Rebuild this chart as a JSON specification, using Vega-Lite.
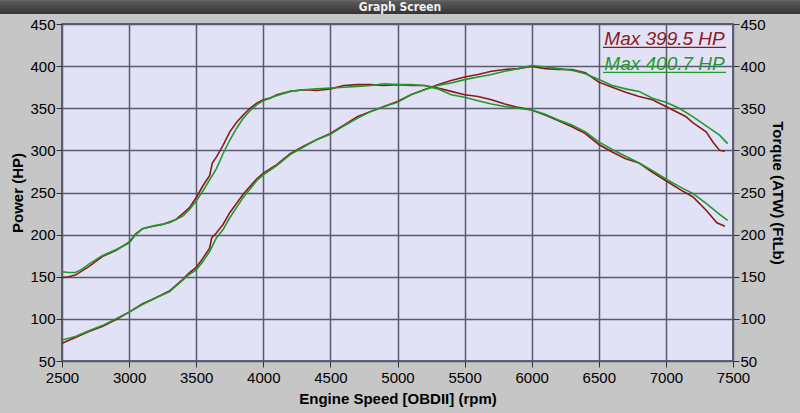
{
  "$schema": "https://vega.github.io/schema/vega-lite/v6.json",
  "width": 671,
  "height": 337,
  "autosize": {"type": "none"},
  "padding": {"left": 62, "top": 24, "right": 67, "bottom": 52},
  "background": "#c6c6c6",
  "config": {
    "font": "Liberation Sans",
    "view": {"fill": "#e2e2f6", "stroke": "#3c3c50", "strokeWidth": 1.5},
    "axis": {
      "labelFont": "Liberation Sans",
      "labelFontSize": 15,
      "labelColor": "#000000",
      "titleFont": "Liberation Sans",
      "titleFontSize": 15,
      "titleFontWeight": "bold",
      "titleColor": "#000000",
      "tickColor": "#303040",
      "tickSize": 6,
      "tickWidth": 1,
      "domain": false,
      "gridColor": "#5a5a70",
      "gridWidth": 1.5,
      "gridOpacity": 1,
      "labelOverlap": false,
      "labelBound": false,
      "labelFlush": false,
      "format": "d"
    }
  },
  "datasets": {
    "curves": [
      {"rpm": 2500, "value": 149, "run": "Run 1", "measure": "Torque"},
      {"rpm": 2550, "value": 150, "run": "Run 1", "measure": "Torque"},
      {"rpm": 2600, "value": 152, "run": "Run 1", "measure": "Torque"},
      {"rpm": 2700, "value": 162, "run": "Run 1", "measure": "Torque"},
      {"rpm": 2750, "value": 168, "run": "Run 1", "measure": "Torque"},
      {"rpm": 2800, "value": 174, "run": "Run 1", "measure": "Torque"},
      {"rpm": 2900, "value": 181, "run": "Run 1", "measure": "Torque"},
      {"rpm": 3000, "value": 191, "run": "Run 1", "measure": "Torque"},
      {"rpm": 3050, "value": 201, "run": "Run 1", "measure": "Torque"},
      {"rpm": 3100, "value": 207, "run": "Run 1", "measure": "Torque"},
      {"rpm": 3150, "value": 209, "run": "Run 1", "measure": "Torque"},
      {"rpm": 3250, "value": 212, "run": "Run 1", "measure": "Torque"},
      {"rpm": 3350, "value": 218, "run": "Run 1", "measure": "Torque"},
      {"rpm": 3400, "value": 225, "run": "Run 1", "measure": "Torque"},
      {"rpm": 3450, "value": 232, "run": "Run 1", "measure": "Torque"},
      {"rpm": 3500, "value": 244, "run": "Run 1", "measure": "Torque"},
      {"rpm": 3550, "value": 258, "run": "Run 1", "measure": "Torque"},
      {"rpm": 3600, "value": 270, "run": "Run 1", "measure": "Torque"},
      {"rpm": 3620, "value": 285, "run": "Run 1", "measure": "Torque"},
      {"rpm": 3650, "value": 292, "run": "Run 1", "measure": "Torque"},
      {"rpm": 3700, "value": 306, "run": "Run 1", "measure": "Torque"},
      {"rpm": 3750, "value": 322, "run": "Run 1", "measure": "Torque"},
      {"rpm": 3800, "value": 333, "run": "Run 1", "measure": "Torque"},
      {"rpm": 3850, "value": 342, "run": "Run 1", "measure": "Torque"},
      {"rpm": 3900, "value": 350, "run": "Run 1", "measure": "Torque"},
      {"rpm": 3950, "value": 356, "run": "Run 1", "measure": "Torque"},
      {"rpm": 4000, "value": 360, "run": "Run 1", "measure": "Torque"},
      {"rpm": 4050, "value": 362, "run": "Run 1", "measure": "Torque"},
      {"rpm": 4100, "value": 366, "run": "Run 1", "measure": "Torque"},
      {"rpm": 4200, "value": 370, "run": "Run 1", "measure": "Torque"},
      {"rpm": 4300, "value": 372, "run": "Run 1", "measure": "Torque"},
      {"rpm": 4400, "value": 371, "run": "Run 1", "measure": "Torque"},
      {"rpm": 4500, "value": 373, "run": "Run 1", "measure": "Torque"},
      {"rpm": 4600, "value": 377, "run": "Run 1", "measure": "Torque"},
      {"rpm": 4700, "value": 378, "run": "Run 1", "measure": "Torque"},
      {"rpm": 4800, "value": 378, "run": "Run 1", "measure": "Torque"},
      {"rpm": 4900, "value": 377, "run": "Run 1", "measure": "Torque"},
      {"rpm": 5000, "value": 378, "run": "Run 1", "measure": "Torque"},
      {"rpm": 5100, "value": 377, "run": "Run 1", "measure": "Torque"},
      {"rpm": 5200, "value": 377, "run": "Run 1", "measure": "Torque"},
      {"rpm": 5300, "value": 374, "run": "Run 1", "measure": "Torque"},
      {"rpm": 5400, "value": 370, "run": "Run 1", "measure": "Torque"},
      {"rpm": 5500, "value": 366, "run": "Run 1", "measure": "Torque"},
      {"rpm": 5600, "value": 364, "run": "Run 1", "measure": "Torque"},
      {"rpm": 5700, "value": 360, "run": "Run 1", "measure": "Torque"},
      {"rpm": 5800, "value": 355, "run": "Run 1", "measure": "Torque"},
      {"rpm": 5900, "value": 351, "run": "Run 1", "measure": "Torque"},
      {"rpm": 6000, "value": 348, "run": "Run 1", "measure": "Torque"},
      {"rpm": 6100, "value": 342, "run": "Run 1", "measure": "Torque"},
      {"rpm": 6200, "value": 335, "run": "Run 1", "measure": "Torque"},
      {"rpm": 6300, "value": 328, "run": "Run 1", "measure": "Torque"},
      {"rpm": 6400, "value": 320, "run": "Run 1", "measure": "Torque"},
      {"rpm": 6500, "value": 307, "run": "Run 1", "measure": "Torque"},
      {"rpm": 6600, "value": 298, "run": "Run 1", "measure": "Torque"},
      {"rpm": 6700, "value": 290, "run": "Run 1", "measure": "Torque"},
      {"rpm": 6800, "value": 285, "run": "Run 1", "measure": "Torque"},
      {"rpm": 6900, "value": 274, "run": "Run 1", "measure": "Torque"},
      {"rpm": 7000, "value": 264, "run": "Run 1", "measure": "Torque"},
      {"rpm": 7100, "value": 254, "run": "Run 1", "measure": "Torque"},
      {"rpm": 7200, "value": 245, "run": "Run 1", "measure": "Torque"},
      {"rpm": 7300, "value": 229, "run": "Run 1", "measure": "Torque"},
      {"rpm": 7380, "value": 214, "run": "Run 1", "measure": "Torque"},
      {"rpm": 7440, "value": 210, "run": "Run 1", "measure": "Torque"},

      {"rpm": 2500, "value": 156, "run": "Run 2", "measure": "Torque"},
      {"rpm": 2550, "value": 155, "run": "Run 2", "measure": "Torque"},
      {"rpm": 2600, "value": 155, "run": "Run 2", "measure": "Torque"},
      {"rpm": 2650, "value": 159, "run": "Run 2", "measure": "Torque"},
      {"rpm": 2700, "value": 165, "run": "Run 2", "measure": "Torque"},
      {"rpm": 2750, "value": 170, "run": "Run 2", "measure": "Torque"},
      {"rpm": 2800, "value": 175, "run": "Run 2", "measure": "Torque"},
      {"rpm": 2900, "value": 182, "run": "Run 2", "measure": "Torque"},
      {"rpm": 3000, "value": 190, "run": "Run 2", "measure": "Torque"},
      {"rpm": 3050, "value": 200, "run": "Run 2", "measure": "Torque"},
      {"rpm": 3100, "value": 207, "run": "Run 2", "measure": "Torque"},
      {"rpm": 3200, "value": 211, "run": "Run 2", "measure": "Torque"},
      {"rpm": 3300, "value": 214, "run": "Run 2", "measure": "Torque"},
      {"rpm": 3400, "value": 222, "run": "Run 2", "measure": "Torque"},
      {"rpm": 3450, "value": 230, "run": "Run 2", "measure": "Torque"},
      {"rpm": 3500, "value": 240, "run": "Run 2", "measure": "Torque"},
      {"rpm": 3550, "value": 252, "run": "Run 2", "measure": "Torque"},
      {"rpm": 3600, "value": 265, "run": "Run 2", "measure": "Torque"},
      {"rpm": 3650, "value": 278, "run": "Run 2", "measure": "Torque"},
      {"rpm": 3700, "value": 296, "run": "Run 2", "measure": "Torque"},
      {"rpm": 3750, "value": 312, "run": "Run 2", "measure": "Torque"},
      {"rpm": 3800, "value": 326, "run": "Run 2", "measure": "Torque"},
      {"rpm": 3850, "value": 338, "run": "Run 2", "measure": "Torque"},
      {"rpm": 3900, "value": 347, "run": "Run 2", "measure": "Torque"},
      {"rpm": 3950, "value": 354, "run": "Run 2", "measure": "Torque"},
      {"rpm": 4000, "value": 359, "run": "Run 2", "measure": "Torque"},
      {"rpm": 4100, "value": 365, "run": "Run 2", "measure": "Torque"},
      {"rpm": 4200, "value": 370, "run": "Run 2", "measure": "Torque"},
      {"rpm": 4300, "value": 372, "run": "Run 2", "measure": "Torque"},
      {"rpm": 4400, "value": 373, "run": "Run 2", "measure": "Torque"},
      {"rpm": 4500, "value": 374, "run": "Run 2", "measure": "Torque"},
      {"rpm": 4600, "value": 375, "run": "Run 2", "measure": "Torque"},
      {"rpm": 4700, "value": 376, "run": "Run 2", "measure": "Torque"},
      {"rpm": 4800, "value": 377, "run": "Run 2", "measure": "Torque"},
      {"rpm": 4900, "value": 379, "run": "Run 2", "measure": "Torque"},
      {"rpm": 5000, "value": 378, "run": "Run 2", "measure": "Torque"},
      {"rpm": 5100, "value": 378, "run": "Run 2", "measure": "Torque"},
      {"rpm": 5200, "value": 377, "run": "Run 2", "measure": "Torque"},
      {"rpm": 5300, "value": 373, "run": "Run 2", "measure": "Torque"},
      {"rpm": 5400, "value": 366, "run": "Run 2", "measure": "Torque"},
      {"rpm": 5500, "value": 363, "run": "Run 2", "measure": "Torque"},
      {"rpm": 5600, "value": 359, "run": "Run 2", "measure": "Torque"},
      {"rpm": 5700, "value": 355, "run": "Run 2", "measure": "Torque"},
      {"rpm": 5800, "value": 352, "run": "Run 2", "measure": "Torque"},
      {"rpm": 5900, "value": 350, "run": "Run 2", "measure": "Torque"},
      {"rpm": 6000, "value": 348, "run": "Run 2", "measure": "Torque"},
      {"rpm": 6100, "value": 343, "run": "Run 2", "measure": "Torque"},
      {"rpm": 6200, "value": 336, "run": "Run 2", "measure": "Torque"},
      {"rpm": 6300, "value": 330, "run": "Run 2", "measure": "Torque"},
      {"rpm": 6400, "value": 322, "run": "Run 2", "measure": "Torque"},
      {"rpm": 6500, "value": 310, "run": "Run 2", "measure": "Torque"},
      {"rpm": 6600, "value": 301, "run": "Run 2", "measure": "Torque"},
      {"rpm": 6700, "value": 293, "run": "Run 2", "measure": "Torque"},
      {"rpm": 6800, "value": 285, "run": "Run 2", "measure": "Torque"},
      {"rpm": 6900, "value": 276, "run": "Run 2", "measure": "Torque"},
      {"rpm": 7000, "value": 266, "run": "Run 2", "measure": "Torque"},
      {"rpm": 7100, "value": 257, "run": "Run 2", "measure": "Torque"},
      {"rpm": 7200, "value": 249, "run": "Run 2", "measure": "Torque"},
      {"rpm": 7300, "value": 237, "run": "Run 2", "measure": "Torque"},
      {"rpm": 7400, "value": 224, "run": "Run 2", "measure": "Torque"},
      {"rpm": 7460, "value": 217, "run": "Run 2", "measure": "Torque"},

      {"rpm": 2500, "value": 71, "run": "Run 1", "measure": "HP"},
      {"rpm": 2600, "value": 78, "run": "Run 1", "measure": "HP"},
      {"rpm": 2700, "value": 85, "run": "Run 1", "measure": "HP"},
      {"rpm": 2800, "value": 91, "run": "Run 1", "measure": "HP"},
      {"rpm": 2900, "value": 99, "run": "Run 1", "measure": "HP"},
      {"rpm": 3000, "value": 108, "run": "Run 1", "measure": "HP"},
      {"rpm": 3100, "value": 118, "run": "Run 1", "measure": "HP"},
      {"rpm": 3200, "value": 125, "run": "Run 1", "measure": "HP"},
      {"rpm": 3300, "value": 133, "run": "Run 1", "measure": "HP"},
      {"rpm": 3400, "value": 147, "run": "Run 1", "measure": "HP"},
      {"rpm": 3450, "value": 155, "run": "Run 1", "measure": "HP"},
      {"rpm": 3500, "value": 161, "run": "Run 1", "measure": "HP"},
      {"rpm": 3550, "value": 172, "run": "Run 1", "measure": "HP"},
      {"rpm": 3600, "value": 184, "run": "Run 1", "measure": "HP"},
      {"rpm": 3615, "value": 196, "run": "Run 1", "measure": "HP"},
      {"rpm": 3650, "value": 202, "run": "Run 1", "measure": "HP"},
      {"rpm": 3700, "value": 212, "run": "Run 1", "measure": "HP"},
      {"rpm": 3750, "value": 226, "run": "Run 1", "measure": "HP"},
      {"rpm": 3800, "value": 237, "run": "Run 1", "measure": "HP"},
      {"rpm": 3850, "value": 248, "run": "Run 1", "measure": "HP"},
      {"rpm": 3900, "value": 257, "run": "Run 1", "measure": "HP"},
      {"rpm": 3950, "value": 266, "run": "Run 1", "measure": "HP"},
      {"rpm": 4000, "value": 273, "run": "Run 1", "measure": "HP"},
      {"rpm": 4100, "value": 283, "run": "Run 1", "measure": "HP"},
      {"rpm": 4200, "value": 296, "run": "Run 1", "measure": "HP"},
      {"rpm": 4300, "value": 305, "run": "Run 1", "measure": "HP"},
      {"rpm": 4400, "value": 313, "run": "Run 1", "measure": "HP"},
      {"rpm": 4500, "value": 320, "run": "Run 1", "measure": "HP"},
      {"rpm": 4600, "value": 330, "run": "Run 1", "measure": "HP"},
      {"rpm": 4700, "value": 340, "run": "Run 1", "measure": "HP"},
      {"rpm": 4800, "value": 346, "run": "Run 1", "measure": "HP"},
      {"rpm": 4900, "value": 352, "run": "Run 1", "measure": "HP"},
      {"rpm": 5000, "value": 358, "run": "Run 1", "measure": "HP"},
      {"rpm": 5100, "value": 366, "run": "Run 1", "measure": "HP"},
      {"rpm": 5200, "value": 372, "run": "Run 1", "measure": "HP"},
      {"rpm": 5300, "value": 378, "run": "Run 1", "measure": "HP"},
      {"rpm": 5400, "value": 383, "run": "Run 1", "measure": "HP"},
      {"rpm": 5500, "value": 387, "run": "Run 1", "measure": "HP"},
      {"rpm": 5600, "value": 390, "run": "Run 1", "measure": "HP"},
      {"rpm": 5700, "value": 394, "run": "Run 1", "measure": "HP"},
      {"rpm": 5800, "value": 396, "run": "Run 1", "measure": "HP"},
      {"rpm": 5900, "value": 397, "run": "Run 1", "measure": "HP"},
      {"rpm": 6000, "value": 399.5, "run": "Run 1", "measure": "HP"},
      {"rpm": 6100, "value": 397, "run": "Run 1", "measure": "HP"},
      {"rpm": 6200, "value": 396, "run": "Run 1", "measure": "HP"},
      {"rpm": 6300, "value": 396, "run": "Run 1", "measure": "HP"},
      {"rpm": 6400, "value": 392, "run": "Run 1", "measure": "HP"},
      {"rpm": 6500, "value": 381, "run": "Run 1", "measure": "HP"},
      {"rpm": 6600, "value": 375, "run": "Run 1", "measure": "HP"},
      {"rpm": 6700, "value": 369, "run": "Run 1", "measure": "HP"},
      {"rpm": 6800, "value": 364, "run": "Run 1", "measure": "HP"},
      {"rpm": 6900, "value": 360, "run": "Run 1", "measure": "HP"},
      {"rpm": 7000, "value": 352, "run": "Run 1", "measure": "HP"},
      {"rpm": 7100, "value": 344, "run": "Run 1", "measure": "HP"},
      {"rpm": 7150, "value": 340, "run": "Run 1", "measure": "HP"},
      {"rpm": 7200, "value": 333, "run": "Run 1", "measure": "HP"},
      {"rpm": 7300, "value": 322, "run": "Run 1", "measure": "HP"},
      {"rpm": 7350, "value": 310, "run": "Run 1", "measure": "HP"},
      {"rpm": 7400, "value": 300, "run": "Run 1", "measure": "HP"},
      {"rpm": 7440, "value": 299, "run": "Run 1", "measure": "HP"},

      {"rpm": 2500, "value": 75, "run": "Run 2", "measure": "HP"},
      {"rpm": 2600, "value": 79, "run": "Run 2", "measure": "HP"},
      {"rpm": 2700, "value": 86, "run": "Run 2", "measure": "HP"},
      {"rpm": 2800, "value": 92, "run": "Run 2", "measure": "HP"},
      {"rpm": 2900, "value": 100, "run": "Run 2", "measure": "HP"},
      {"rpm": 3000, "value": 108, "run": "Run 2", "measure": "HP"},
      {"rpm": 3100, "value": 117, "run": "Run 2", "measure": "HP"},
      {"rpm": 3200, "value": 125, "run": "Run 2", "measure": "HP"},
      {"rpm": 3300, "value": 132, "run": "Run 2", "measure": "HP"},
      {"rpm": 3400, "value": 146, "run": "Run 2", "measure": "HP"},
      {"rpm": 3450, "value": 153, "run": "Run 2", "measure": "HP"},
      {"rpm": 3500, "value": 158, "run": "Run 2", "measure": "HP"},
      {"rpm": 3550, "value": 168, "run": "Run 2", "measure": "HP"},
      {"rpm": 3600, "value": 180, "run": "Run 2", "measure": "HP"},
      {"rpm": 3650, "value": 196, "run": "Run 2", "measure": "HP"},
      {"rpm": 3700, "value": 206, "run": "Run 2", "measure": "HP"},
      {"rpm": 3750, "value": 220, "run": "Run 2", "measure": "HP"},
      {"rpm": 3800, "value": 232, "run": "Run 2", "measure": "HP"},
      {"rpm": 3850, "value": 244, "run": "Run 2", "measure": "HP"},
      {"rpm": 3900, "value": 254, "run": "Run 2", "measure": "HP"},
      {"rpm": 3950, "value": 264, "run": "Run 2", "measure": "HP"},
      {"rpm": 4000, "value": 271, "run": "Run 2", "measure": "HP"},
      {"rpm": 4100, "value": 282, "run": "Run 2", "measure": "HP"},
      {"rpm": 4200, "value": 295, "run": "Run 2", "measure": "HP"},
      {"rpm": 4300, "value": 304, "run": "Run 2", "measure": "HP"},
      {"rpm": 4400, "value": 313, "run": "Run 2", "measure": "HP"},
      {"rpm": 4500, "value": 319, "run": "Run 2", "measure": "HP"},
      {"rpm": 4600, "value": 329, "run": "Run 2", "measure": "HP"},
      {"rpm": 4700, "value": 338, "run": "Run 2", "measure": "HP"},
      {"rpm": 4800, "value": 346, "run": "Run 2", "measure": "HP"},
      {"rpm": 4900, "value": 352, "run": "Run 2", "measure": "HP"},
      {"rpm": 5000, "value": 357, "run": "Run 2", "measure": "HP"},
      {"rpm": 5100, "value": 366, "run": "Run 2", "measure": "HP"},
      {"rpm": 5200, "value": 372, "run": "Run 2", "measure": "HP"},
      {"rpm": 5300, "value": 377, "run": "Run 2", "measure": "HP"},
      {"rpm": 5400, "value": 380, "run": "Run 2", "measure": "HP"},
      {"rpm": 5500, "value": 384, "run": "Run 2", "measure": "HP"},
      {"rpm": 5600, "value": 387, "run": "Run 2", "measure": "HP"},
      {"rpm": 5700, "value": 390, "run": "Run 2", "measure": "HP"},
      {"rpm": 5800, "value": 394, "run": "Run 2", "measure": "HP"},
      {"rpm": 5900, "value": 397, "run": "Run 2", "measure": "HP"},
      {"rpm": 6000, "value": 400.7, "run": "Run 2", "measure": "HP"},
      {"rpm": 6100, "value": 399, "run": "Run 2", "measure": "HP"},
      {"rpm": 6200, "value": 397, "run": "Run 2", "measure": "HP"},
      {"rpm": 6300, "value": 395, "run": "Run 2", "measure": "HP"},
      {"rpm": 6400, "value": 391, "run": "Run 2", "measure": "HP"},
      {"rpm": 6500, "value": 384, "run": "Run 2", "measure": "HP"},
      {"rpm": 6600, "value": 377, "run": "Run 2", "measure": "HP"},
      {"rpm": 6700, "value": 373, "run": "Run 2", "measure": "HP"},
      {"rpm": 6800, "value": 370, "run": "Run 2", "measure": "HP"},
      {"rpm": 6900, "value": 362, "run": "Run 2", "measure": "HP"},
      {"rpm": 7000, "value": 357, "run": "Run 2", "measure": "HP"},
      {"rpm": 7100, "value": 350, "run": "Run 2", "measure": "HP"},
      {"rpm": 7200, "value": 340, "run": "Run 2", "measure": "HP"},
      {"rpm": 7300, "value": 329, "run": "Run 2", "measure": "HP"},
      {"rpm": 7400, "value": 318, "run": "Run 2", "measure": "HP"},
      {"rpm": 7460, "value": 308, "run": "Run 2", "measure": "HP"}
    ],
    "labels": [
      {"label": "Max 399.5 HP", "run": "Run 1"},
      {"label": "Max 400.7 HP", "run": "Run 2"}
    ],
    "window": [
      {"title": "Graph Screen"}
    ]
  },
  "layer": [
    {
      "layer": [
        {
          "data": {"name": "window"},
          "mark": {
            "type": "rect",
            "clip": false,
            "fill": {
              "gradient": "linear", "x1": 0, "y1": 0, "x2": 0, "y2": 1,
              "stops": [
                {"offset": 0, "color": "#8a8a8a"},
                {"offset": 0.15, "color": "#5c5c5c"},
                {"offset": 1, "color": "#343434"}
              ]
            }
          },
          "encoding": {
            "x": {"datum": 2000, "title": "Engine Speed [OBDII] (rpm)"},
            "x2": {"datum": 8100},
            "y": {"datum": 480, "title": "Power (HP)"},
            "y2": {"datum": 461.9}
          }
        },
        {
          "data": {"name": "window"},
          "mark": {
            "type": "text",
            "clip": false,
            "font": "DejaVu Sans Condensed, Liberation Sans, sans-serif",
            "fontWeight": "bold",
            "fontSize": 12,
            "fill": "#f0f0f0",
            "align": "center",
            "baseline": "middle"
          },
          "encoding": {
            "text": {"field": "title"},
            "x": {"datum": 5019, "title": "Engine Speed [OBDII] (rpm)"},
            "y": {"datum": 469.8, "title": "Power (HP)"}
          }
        },
        {
          "data": {"name": "curves"},
          "transform": [{"filter": "datum.measure === 'HP'"}],
          "mark": {"type": "line", "strokeWidth": 1.6},
          "encoding": {
            "x": {
              "field": "rpm",
              "type": "quantitative",
              "title": "Engine Speed [OBDII] (rpm)",
              "scale": {"domain": [2500, 7500], "nice": false, "zero": false},
              "axis": {
                "values": [2500, 3000, 3500, 4000, 4500, 5000, 5500, 6000, 6500, 7000, 7500],
                "grid": true,
                "format": "d",
                "labelPadding": 3,
                "titlePadding": 6
              }
            },
            "y": {
              "field": "value",
              "type": "quantitative",
              "title": "Power (HP)",
              "scale": {"domain": [50, 450], "nice": false, "zero": false},
              "axis": {
                "orient": "left",
                "values": [50, 100, 150, 200, 250, 300, 350, 400, 450],
                "grid": true,
                "format": "d",
                "labelPadding": 1,
                "titlePadding": 4
              }
            },
            "color": {
              "field": "run",
              "type": "nominal",
              "scale": {"domain": ["Run 1", "Run 2"], "range": ["#8b1a1a", "#1f9a2a"]},
              "legend": null
            }
          }
        },
        {
          "data": {"name": "labels"},
          "transform": [{"filter": "datum.run === 'Run 1'"}],
          "mark": {"type": "text", "fontStyle": "italic", "fontSize": 19, "align": "center", "baseline": "alphabetic", "font": "Liberation Sans"},
          "encoding": {
            "text": {"field": "label"},
            "x": {"datum": 6990, "title": "Engine Speed [OBDII] (rpm)"},
            "y": {"datum": 425, "title": "Power (HP)"},
            "color": {"field": "run", "type": "nominal", "legend": null}
          }
        },
        {
          "data": {"name": "labels"},
          "transform": [{"filter": "datum.run === 'Run 1'"}],
          "mark": {"type": "rule", "strokeWidth": 1.2},
          "encoding": {
            "x": {"datum": 6531, "title": "Engine Speed [OBDII] (rpm)"},
            "x2": {"datum": 7448},
            "y": {"datum": 422.3, "title": "Power (HP)"},
            "color": {"field": "run", "type": "nominal", "legend": null}
          }
        },
        {
          "data": {"name": "labels"},
          "transform": [{"filter": "datum.run === 'Run 2'"}],
          "mark": {"type": "text", "fontStyle": "italic", "fontSize": 19, "align": "center", "baseline": "alphabetic", "font": "Liberation Sans"},
          "encoding": {
            "text": {"field": "label"},
            "x": {"datum": 6990, "title": "Engine Speed [OBDII] (rpm)"},
            "y": {"datum": 395.4, "title": "Power (HP)"},
            "color": {"field": "run", "type": "nominal", "legend": null}
          }
        },
        {
          "data": {"name": "labels"},
          "transform": [{"filter": "datum.run === 'Run 2'"}],
          "mark": {"type": "rule", "strokeWidth": 1.2},
          "encoding": {
            "x": {"datum": 6531, "title": "Engine Speed [OBDII] (rpm)"},
            "x2": {"datum": 7448},
            "y": {"datum": 392.7, "title": "Power (HP)"},
            "color": {"field": "run", "type": "nominal", "legend": null}
          }
        }
      ]
    },
    {
      "data": {"name": "curves"},
      "transform": [{"filter": "datum.measure === 'Torque'"}],
      "mark": {"type": "line", "strokeWidth": 1.6},
      "encoding": {
        "x": {"field": "rpm", "type": "quantitative", "title": "Engine Speed [OBDII] (rpm)"},
        "y": {
          "field": "value",
          "type": "quantitative",
          "title": "Torque (ATW) (FtLb)",
          "scale": {"domain": [50, 450], "nice": false, "zero": false},
          "axis": {
            "orient": "right",
            "values": [50, 100, 150, 200, 250, 300, 350, 400, 450],
            "grid": false,
            "format": "d",
            "labelPadding": 1,
            "titlePadding": 4
          }
        },
        "color": {"field": "run", "type": "nominal", "legend": null}
      }
    }
  ],
  "resolve": {"scale": {"y": "independent"}}
}
